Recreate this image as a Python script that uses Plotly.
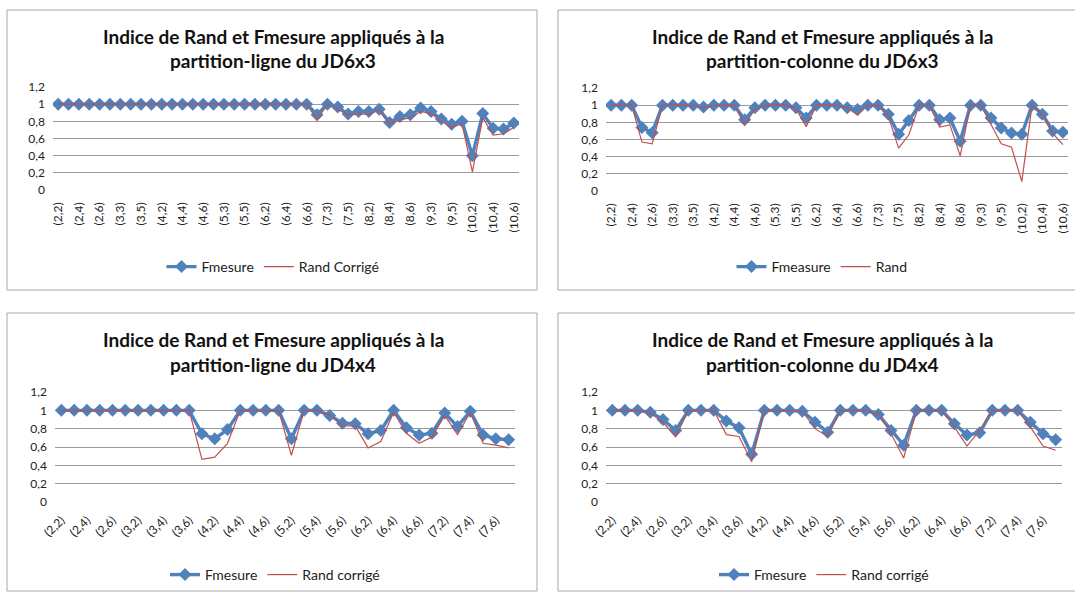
import plotly.graph_objects as go

W, H = 1075, 595

# ---- categories (couples (i,j)) ----
cats_6x3 = ["(2,2)", "(2,3)", "(2,4)", "(2,5)", "(2,6)",
            "(3,2)", "(3,3)", "(3,4)", "(3,5)", "(3,6)",
            "(4,2)", "(4,3)", "(4,4)", "(4,5)", "(4,6)",
            "(5,2)", "(5,3)", "(5,4)", "(5,5)", "(5,6)",
            "(6,2)", "(6,3)", "(6,4)", "(6,5)", "(6,6)",
            "(7,2)", "(7,3)", "(7,4)", "(7,5)", "(7,6)",
            "(8,2)", "(8,3)", "(8,4)", "(8,5)", "(8,6)",
            "(9,2)", "(9,3)", "(9,4)", "(9,5)", "(9,6)",
            "(10,2)", "(10,3)", "(10,4)", "(10,5)", "(10,6)"]

cats_4x4 = ["(2,2)", "(2,3)", "(2,4)", "(2,5)", "(2,6)", "(2,7)",
            "(3,2)", "(3,3)", "(3,4)", "(3,5)", "(3,6)", "(3,7)",
            "(4,2)", "(4,3)", "(4,4)", "(4,5)", "(4,6)", "(4,7)",
            "(5,2)", "(5,3)", "(5,4)", "(5,5)", "(5,6)", "(5,7)",
            "(6,2)", "(6,3)", "(6,4)", "(6,5)", "(6,6)", "(6,7)",
            "(7,2)", "(7,3)", "(7,4)", "(7,5)", "(7,6)", "(7,7)"]

# ---- JD6x3, partition-ligne ----
fmes_ligne_6x3 = [1, 1, 1, 1, 1, 1, 1, 1, 1, 1, 1, 1, 1, 1, 1, 1, 1, 1, 1, 1,
                  1, 1, 1, 1, 1, 0.876, 1.0, 0.966, 0.885, 0.915, 0.915, 0.94,
                  0.787, 0.857, 0.876, 0.955, 0.915, 0.826, 0.767, 0.8, 0.40,
                  0.89, 0.72, 0.71, 0.78]
rand_ligne_6x3 = [1, 1, 1, 1, 1, 1, 1, 1, 1, 1, 1, 1, 1, 1, 1, 1, 1, 1, 1, 1,
                  1, 1, 1, 1, 1, 0.82, 1.0, 0.94, 0.876, 0.885, 0.885, 0.93,
                  0.77, 0.82, 0.84, 0.915, 0.89, 0.8, 0.73, 0.77, 0.21,
                  0.84, 0.64, 0.655, 0.73]

# ---- JD6x3, partition-colonne ----
fmes_col_6x3 = [1, 1, 1, 0.74, 0.68, 1, 1, 1, 1, 0.98, 1, 1, 1, 0.83, 0.97,
                1, 1, 1, 0.97, 0.85, 1, 1, 1, 0.97, 0.95, 1, 1, 0.895, 0.66,
                0.82, 1, 1, 0.83, 0.85, 0.58, 1, 1, 0.85, 0.735, 0.675, 0.66,
                1.0, 0.895, 0.70, 0.685]
rand_col_6x3 = [1, 1, 1, 0.57, 0.55, 1, 1, 1, 0.99, 0.97, 1, 1, 1, 0.77, 0.95,
                1, 1, 1, 0.96, 0.75, 1, 1, 1, 0.97, 0.885, 1, 1, 0.87, 0.50,
                0.655, 1, 1, 0.745, 0.77, 0.41, 1, 1, 0.775, 0.55, 0.51, 0.11,
                1.0, 0.89, 0.675, 0.54]

# ---- JD4x4, partition-ligne ----
fmes_ligne_4x4 = [1, 1, 1, 1, 1, 1, 1, 1, 1, 1, 1, 0.745, 0.69, 0.79, 1, 1, 1,
                  1, 0.69, 1, 1, 0.945, 0.86, 0.855, 0.745, 0.78, 1, 0.81,
                  0.73, 0.75, 0.97, 0.825, 0.99, 0.73, 0.69, 0.68]
rand_ligne_4x4 = [1, 1, 1, 1, 1, 1, 1, 1, 1, 1, 1, 0.465, 0.49, 0.64, 1, 1, 1,
                  1, 0.51, 1, 1, 0.95, 0.83, 0.83, 0.59, 0.66, 0.98, 0.75,
                  0.64, 0.71, 0.945, 0.735, 0.98, 0.64, 0.62, 0.59]

# ---- JD4x4, partition-colonne ----
fmes_col_4x4 = [1, 1, 1, 0.98, 0.90, 0.78, 1, 1, 1, 0.885, 0.81, 0.52, 1, 1,
                1, 0.99, 0.87, 0.76, 1, 1, 1, 0.955, 0.78, 0.62, 1, 1, 1,
                0.855, 0.73, 0.755, 1, 1, 1, 0.87, 0.745, 0.68]
rand_col_4x4 = [1, 1, 1, 0.97, 0.87, 0.71, 1, 1, 1, 0.735, 0.715, 0.44, 1, 1,
                1, 0.99, 0.80, 0.715, 1, 1, 1, 0.965, 0.745, 0.48, 1, 1, 1,
                0.82, 0.61, 0.78, 1, 1, 1, 0.82, 0.61, 0.565]

y_ticks = [0, 0.2, 0.4, 0.6, 0.8, 1, 1.2]

BLUE = "#4F81BD"
RED = "#C0504D"
FONT = "Lato"


def fx(x):
    return x / W


def fy(y):
    return 1 - y / H


panels = [
    dict(t1="Indice de Rand et Fmesure appliqués à la", t2="partition-ligne du JD6x3",
         cats=cats_6x3, f=fmes_ligne_6x3, r=rand_ligne_6x3,
         fname="Fmesure", rname="Rand Corrigé",
         plot=(53, 519, 87, 190), box=(7, 537, 10, 290), tcx=273, ty=(36, 61),
         angle=-90, xstand=9, leg=(273, 267)),
    dict(t1="Indice de Rand et Fmesure appliqués à la", t2="partition-colonne du JD6x3",
         cats=cats_6x3, f=fmes_col_6x3, r=rand_col_6x3,
         fname="Fmeasure", rname="Rand",
         plot=(606, 1068, 88, 191), box=(558, 1080, 10, 290), tcx=822, ty=(36, 61),
         angle=-90, xstand=9, leg=(822, 267)),
    dict(t1="Indice de Rand et Fmesure appliqués à la", t2="partition-ligne du JD4x4",
         cats=cats_4x4, f=fmes_ligne_4x4, r=rand_ligne_4x4,
         fname="Fmesure", rname="Rand corrigé",
         plot=(55, 515, 392, 502), box=(7, 537, 313, 591), tcx=273, ty=(339, 364),
         angle=-45, xstand=8, leg=(275, 575)),
    dict(t1="Indice de Rand et Fmesure appliqués à la", t2="partition-colonne du JD4x4",
         cats=cats_4x4, f=fmes_col_4x4, r=rand_col_4x4,
         fname="Fmesure", rname="Rand corrigé",
         plot=(606, 1062, 392, 502), box=(558, 1080, 313, 591), tcx=822, ty=(339, 364),
         angle=-45, xstand=8, leg=(824, 575)),
]

fig = go.Figure()
layout = dict(width=W, height=H, margin=dict(l=0, r=0, t=0, b=0, pad=0),
              paper_bgcolor="white", plot_bgcolor="white",
              separators=", ", font=dict(family=FONT, color="#222222"),
              shapes=[], annotations=[])

for k, p in enumerate(panels, start=1):
    sfx = "" if k == 1 else str(k)
    leg = "legend" if k == 1 else f"legend{k}"
    fig.add_trace(go.Scatter(
        x=p["cats"], y=p["f"], name=p["fname"], mode="lines+markers",
        line=dict(color=BLUE, width=3.4),
        marker=dict(symbol="diamond", size=10, color=BLUE),
        xaxis="x" + sfx, yaxis="y" + sfx, legend=leg))
    fig.add_trace(go.Scatter(
        x=p["cats"], y=p["r"], name=p["rname"], mode="lines",
        line=dict(color=RED, width=1.2),
        xaxis="x" + sfx, yaxis="y" + sfx, legend=leg))

    x0, x1, yt, yb = p["plot"]
    layout["xaxis" + sfx] = dict(
        domain=[fx(x0), fx(x1)], anchor="y" + sfx, type="category",
        categoryorder="array", categoryarray=p["cats"],
        range=[-0.5, len(p["cats"]) - 0.5], automargin=False,
        tickmode="array", tickvals=p["cats"][::2], ticktext=p["cats"][::2],
        tickangle=p["angle"], tickfont=dict(size=12, color="#222222"),
        ticklabelstandoff=p["xstand"],
        showgrid=False, showline=False, zeroline=False, ticks="")
    layout["yaxis" + sfx] = dict(
        domain=[fy(yb), fy(yt)], anchor="x" + sfx, range=[0, 1.2],
        automargin=False, tickmode="array", tickvals=y_ticks,
        tickfont=dict(size=12, color="#222222"), ticklabelstandoff=7,
        showgrid=True, gridcolor="#9A9A9A", gridwidth=1,
        zeroline=False, showline=False, ticks="")

    bx0, bx1, byt, byb = p["box"]
    layout["shapes"].append(dict(
        type="rect", xref="paper", yref="paper",
        x0=fx(bx0), x1=fx(bx1), y0=fy(byb), y1=fy(byt),
        line=dict(color="#A6A6A6", width=1), fillcolor="rgba(0,0,0,0)",
        layer="below"))

    for txt, ty in zip((p["t1"], p["t2"]), p["ty"]):
        layout["annotations"].append(dict(
            text="<b>" + txt + "</b>", xref="paper", yref="paper",
            x=fx(p["tcx"]), y=fy(ty), xanchor="center", yanchor="middle",
            showarrow=False, font=dict(size=19, color="#111111", family=FONT)))

    lx, ly = p["leg"]
    layout[leg] = dict(
        orientation="h", x=fx(lx), y=fy(ly), xanchor="center", yanchor="middle",
        font=dict(size=14, color="#222222"), bgcolor="rgba(0,0,0,0)",
        itemwidth=30, tracegroupgap=0)

fig.update_layout(**layout)
# the page's default body margin would shift the figure by 8px
fig.write_html("out.html", config={"displayModeBar": False},
               post_script="document.body.style.margin = '0';")
